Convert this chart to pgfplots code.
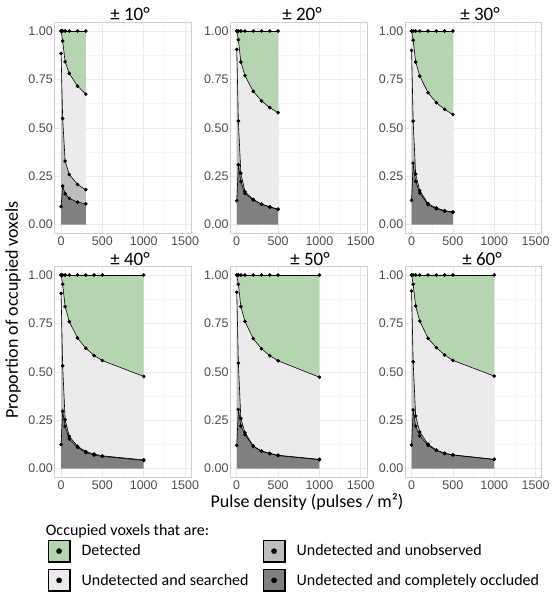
\documentclass[border=0pt]{standalone}
\usepackage{fontspec}
\setmainfont{Carlito}
\newfontfamily\arialfont{Liberation Sans}
\usepackage{pgfplots}
\pgfplotsset{compat=1.18}
\usepackage{pgfplotstable}
\usepgfplotslibrary{fillbetween}
\definecolor{cdet}{HTML}{B5D5B0}
\definecolor{csea}{HTML}{EBEBEB}
\definecolor{cuno}{HTML}{BEBEBE}
\definecolor{cocc}{HTML}{808080}
\definecolor{tickcol}{HTML}{4D4D4D}
\definecolor{gridmaj}{HTML}{EBEBEB}
\definecolor{gridmin}{HTML}{F6F6F6}
\definecolor{bordercol}{HTML}{D0D0D0}

\pgfplotstableread{
x T D S U Z
1 1 1.000 0.884 0.093 0
20 1 0.948 0.548 0.199 0
50 1 0.841 0.328 0.159 0
100 1 0.781 0.259 0.136 0
200 1 0.715 0.207 0.116 0
300 1 0.674 0.180 0.107 0
}\tA
\pgfplotstableread{
x T D S U Z
1 1 1.000 0.905 0.123 0
20 1 0.955 0.535 0.309 0
50 1 0.840 0.266 0.222 0
100 1 0.769 0.170 0.161 0
200 1 0.688 0.130 0.127 0
300 1 0.639 0.106 0.104 0
400 1 0.604 0.092 0.090 0
500 1 0.578 0.080 0.078 0
}\tB
\pgfplotstableread{
x T D S U Z
1 1 1.000 0.900 0.125 0
20 1 0.952 0.535 0.317 0
50 1 0.840 0.261 0.223 0
100 1 0.767 0.175 0.163 0
200 1 0.681 0.108 0.103 0
300 1 0.630 0.086 0.082 0
400 1 0.595 0.072 0.069 0
500 1 0.569 0.065 0.063 0
}\tC
\pgfplotstableread{
x T D S U Z
1 1 1.000 0.905 0.124 0
20 1 0.952 0.531 0.296 0
50 1 0.837 0.253 0.218 0
100 1 0.759 0.167 0.153 0
200 1 0.674 0.115 0.110 0
300 1 0.622 0.088 0.083 0
400 1 0.584 0.075 0.070 0
500 1 0.558 0.066 0.063 0
1000 1 0.476 0.045 0.042 0
}\tD
\pgfplotstableread{
x T D S U Z
1 1 1.000 0.911 0.120 0
20 1 0.952 0.545 0.305 0
50 1 0.837 0.259 0.220 0
100 1 0.760 0.185 0.175 0
200 1 0.671 0.117 0.115 0
300 1 0.619 0.091 0.089 0
400 1 0.583 0.079 0.077 0
500 1 0.557 0.069 0.067 0
1000 1 0.472 0.048 0.046 0
}\tE
\pgfplotstableread{
x T D S U Z
1 1 1.000 0.917 0.122 0
20 1 0.952 0.552 0.303 0
50 1 0.840 0.272 0.220 0
100 1 0.762 0.189 0.169 0
200 1 0.673 0.126 0.120 0
300 1 0.625 0.096 0.094 0
400 1 0.587 0.079 0.078 0
500 1 0.559 0.071 0.070 0
1000 1 0.478 0.048 0.047 0
}\tF

\newcommand\tickfont{\arialfont\fontsize{12.5bp}{14bp}\selectfont}
\newcommand\titlefont{\fontsize{19bp}{22bp}\selectfont}
\newcommand\labfont{\fontsize{18bp}{21bp}\selectfont}
\newcommand\legfont{\fontsize{16bp}{19bp}\selectfont}

\pgfplotsset{
  panel/.style={
    scale only axis, width=136.5bp, height=211bp, anchor=north west,
    xmin=-75, xmax=1575, ymin=-0.045, ymax=1.045,
    xtick={0,500,1000,1500}, xticklabels={0,500,1000,1500},
    ytick={0,0.25,0.5,0.75,1}, yticklabels={0.00,0.25,0.50,0.75,1.00},
    minor xtick={250,750,1250}, minor ytick={0.125,0.375,0.625,0.875},
    grid=both,
    major grid style={draw=gridmaj, line width=0.6bp},
    minor grid style={draw=gridmin, line width=0.4bp},
    axis line style={draw=bordercol, line width=0.7bp},
    major tick length=0pt, minor tick length=0pt,
    tick label style={font=\tickfont, text=tickcol},
    yticklabel style={xshift=1.5bp},
  },
  ser/.style={black, line width=0.6bp, mark=*, mark size=1.5bp, mark options={solid}, forget plot},
  keyimg/.style={legend image code/.code={%
    \draw[fill=#1, line width=1.6bp] (0bp,-10.8bp) rectangle (21.5bp,10.8bp);
    \fill[black] (10.75bp,0bp) circle (2.6bp);}},
}

\newcommand\drawpanel[1]{%
  \addplot[name path=T, draw=none, forget plot] table[x=x,y=T]{#1};
  \addplot[name path=D, draw=none, forget plot] table[x=x,y=D]{#1};
  \addplot[name path=S, draw=none, forget plot] table[x=x,y=S]{#1};
  \addplot[name path=U, draw=none, forget plot] table[x=x,y=U]{#1};
  \addplot[name path=Z, draw=none, forget plot] table[x=x,y=Z]{#1};
  \addplot[fill=cdet, draw=none, forget plot] fill between[of=T and D];
  \addplot[fill=csea, draw=none, forget plot] fill between[of=D and S];
  \addplot[fill=cuno, draw=none, forget plot] fill between[of=S and U];
  \addplot[fill=cocc, draw=none, forget plot] fill between[of=U and Z];
  \addplot[ser] table[x=x,y=T]{#1};
  \addplot[ser] table[x=x,y=D]{#1};
  \addplot[ser] table[x=x,y=S]{#1};
  \addplot[ser] table[x=x,y=U]{#1};
}

\begin{document}
\begin{tikzpicture}
\path (0,0) rectangle (550bp,-597bp);

\begin{axis}[panel, at={(54.8bp,-22.3bp)}]
\drawpanel{\tA}
\end{axis}
\begin{axis}[panel, at={(230.5bp,-22.3bp)}]
\drawpanel{\tB}
\end{axis}
\begin{axis}[panel, at={(405.3bp,-22.3bp)}]
\drawpanel{\tC}
\end{axis}

\begin{axis}[panel, at={(54.8bp,-266.3bp)},
  legend columns=2,
  legend style={at={(axis description cs:-0.0546,-0.294)}, anchor=north west,
    draw=none, fill=none, inner sep=0pt, font=\legfont,
    /tikz/row sep=6bp,
    cells={anchor=west},
    /tikz/every odd column/.append style={column sep=9bp},
    /tikz/every even column/.append style={column sep=12bp}}]
\drawpanel{\tD}
\addlegendimage{keyimg=cdet}
\addlegendentry{Detected}
\addlegendimage{keyimg=cuno}
\addlegendentry{Undetected and unobserved}
\addlegendimage{keyimg=csea}
\addlegendentry{Undetected and searched}
\addlegendimage{keyimg=cocc}
\addlegendentry{Undetected and completely occluded}
\end{axis}
\begin{axis}[panel, at={(230.5bp,-266.3bp)}]
\drawpanel{\tE}
\end{axis}
\begin{axis}[panel, at={(405.3bp,-266.3bp)}]
\drawpanel{\tF}
\end{axis}

\node[anchor=base, font=\titlefont] at (130bp,-20bp) {± 10°};
\node[anchor=base, font=\titlefont] at (302bp,-20bp) {± 20°};
\node[anchor=base, font=\titlefont] at (480bp,-20bp) {± 30°};
\node[anchor=base, font=\titlefont] at (130bp,-265bp) {± 40°};
\node[anchor=base, font=\titlefont] at (310bp,-265bp) {± 50°};
\node[anchor=base, font=\titlefont] at (482bp,-265bp) {± 60°};

\node[rotate=90, font=\labfont] at (13bp,-310bp) {Proportion of occupied voxels};
\node[anchor=base, font=\labfont] at (307bp,-507bp) {Pulse density (pulses / m²)};
\node[anchor=base west, font=\legfont, inner sep=0pt] at (45.7bp,-535bp) {Occupied voxels that are:};
\end{tikzpicture}
\end{document}
